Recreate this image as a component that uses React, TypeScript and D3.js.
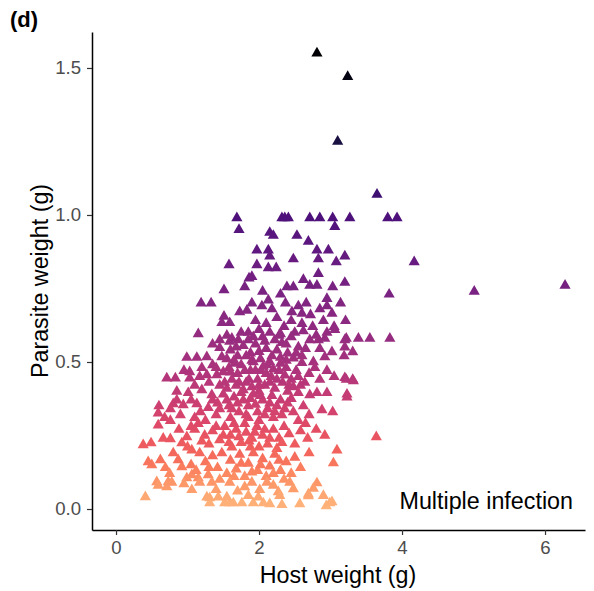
import React, { useEffect, useRef } from 'react';
import * as d3 from 'd3';

// [host weight (g), parasite weight (g)], grouped by parasite weight band
const outliers = [
    [2.81, 1.55], [3.24, 1.47], [3.10, 1.25], [3.65, 1.07],
];
const band95 = [
    [1.69, 0.99], [1.72, 0.95], [2.32, 0.99], [2.36, 0.99], [2.41, 0.99], [2.71, 0.99],
    [2.85, 0.99], [3.03, 0.99], [3.27, 0.99], [3.80, 0.99], [3.93, 0.99], [3.06, 0.96],
    [2.15, 0.94], [2.20, 0.93], [2.53, 0.93],
];
const band80 = [
    [2.69, 0.91], [2.81, 0.88], [2.97, 0.88], [1.97, 0.88], [2.13, 0.88], [2.15, 0.86],
    [2.48, 0.85], [2.83, 0.85], [3.20, 0.86], [3.08, 0.84], [1.58, 0.83], [1.97, 0.83],
    [2.13, 0.82], [2.24, 0.82], [2.83, 0.80], [4.17, 0.84],
];
const band72 = [
    [1.86, 0.785], [1.90, 0.79], [2.62, 0.78], [1.80, 0.755], [2.39, 0.755], [2.48, 0.755],
    [2.71, 0.76], [2.81, 0.76], [3.03, 0.755], [3.20, 0.77], [1.51, 0.745], [2.95, 0.715],
    [3.82, 0.73], [5.01, 0.74], [6.28, 0.76], [2.05, 0.74], [2.30, 0.73],
];
const band60 = [
    [1.19, 0.70], [1.33, 0.70], [1.51, 0.655], [1.73, 0.67], [1.83, 0.675], [1.90, 0.70],
    [2.04, 0.69], [2.13, 0.71], [2.18, 0.68], [2.37, 0.70], [2.46, 0.67], [2.55, 0.69],
    [2.60, 0.665], [2.66, 0.70], [2.72, 0.66], [2.85, 0.68], [2.95, 0.69], [3.02, 0.665],
    [3.14, 0.70], [1.48, 0.633], [1.59, 0.633], [1.95, 0.64], [2.10, 0.63], [2.25, 0.65],
    [2.35, 0.62], [2.45, 0.64], [2.60, 0.63], [2.75, 0.62], [2.90, 0.64], [3.05, 0.62],
    [3.21, 0.64], [1.15, 0.595], [1.45, 0.575], [1.59, 0.57], [1.71, 0.575], [1.85, 0.60],
    [2.00, 0.61], [2.15, 0.60], [2.30, 0.595], [2.50, 0.60], [2.62, 0.605], [2.80, 0.59],
    [2.95, 0.60], [3.06, 0.61],
];
const band50 = [
    [0.99, 0.515], [1.13, 0.515], [1.27, 0.517], [1.45, 0.548], [1.48, 0.517], [1.60, 0.54],
    [1.70, 0.52], [1.78, 0.555], [1.88, 0.53], [1.95, 0.56], [2.02, 0.51], [2.10, 0.545],
    [2.18, 0.52], [2.25, 0.54], [2.32, 0.565], [2.40, 0.53], [2.48, 0.513], [2.55, 0.55],
    [2.60, 0.52], [2.71, 0.575], [2.83, 0.575], [2.92, 0.58], [3.20, 0.575], [3.39, 0.58],
    [3.55, 0.58], [3.22, 0.58], [3.83, 0.58], [3.20, 0.55], [3.31, 0.534], [3.19, 0.52],
    [2.92, 0.517], [3.02, 0.534], [2.76, 0.50], [2.65, 0.545], [1.85, 0.575], [2.05, 0.585],
    [2.22, 0.575], [2.45, 0.585], [1.55, 0.59], [1.35, 0.56], [2.38, 0.505], [2.85, 0.545],
    [1.65, 0.505], [1.62, 0.58], [1.75, 0.60], [1.92, 0.585], [2.08, 0.57], [2.28, 0.59],
    [2.38, 0.56], [1.68, 0.55], [1.82, 0.52], [2.00, 0.535], [2.15, 0.50], [2.30, 0.515],
    [2.52, 0.53], [1.55, 0.51], [1.90, 0.505],
];
const band40 = [
    [0.83, 0.445], [1.03, 0.466], [1.03, 0.445], [1.27, 0.456], [1.41, 0.456], [1.50, 0.466],
    [0.71, 0.445], [1.20, 0.48], [1.35, 0.49], [1.58, 0.48], [1.62, 0.44], [1.70, 0.46],
    [1.75, 0.49], [1.82, 0.43], [1.88, 0.47], [1.92, 0.50], [1.98, 0.44], [2.03, 0.47],
    [2.08, 0.42], [2.12, 0.49], [2.17, 0.45], [2.22, 0.41], [2.28, 0.47], [2.33, 0.43],
    [2.38, 0.48], [2.45, 0.44], [2.52, 0.47], [2.58, 0.42], [2.60, 0.497], [2.64, 0.43],
    [2.70, 0.46], [2.78, 0.48], [2.85, 0.44], [2.95, 0.47], [3.05, 0.45], [3.20, 0.446],
    [3.31, 0.44], [3.22, 0.44], [3.32, 0.435], [1.45, 0.42], [1.55, 0.41], [1.68, 0.42],
    [1.78, 0.405], [1.90, 0.415], [2.00, 0.40], [2.48, 0.415], [2.10, 0.46], [2.40, 0.40],
    [1.10, 0.42], [0.95, 0.47], [1.60, 0.465], [1.66, 0.495], [1.72, 0.43], [1.80, 0.47],
    [1.86, 0.44], [1.95, 0.47], [2.00, 0.42], [2.06, 0.485], [2.15, 0.43], [2.20, 0.475],
    [2.25, 0.44], [2.30, 0.495], [2.36, 0.455], [2.42, 0.42], [1.52, 0.43], [1.40, 0.48],
    [1.30, 0.43], [1.17, 0.45], [2.55, 0.45],
];
const band30 = [
    [0.85, 0.40], [1.01, 0.395], [1.20, 0.405], [1.34, 0.388], [0.80, 0.357], [0.85, 0.37],
    [0.76, 0.34], [0.94, 0.354], [1.13, 0.357], [1.29, 0.344], [1.42, 0.36], [1.50, 0.39],
    [1.58, 0.35], [1.65, 0.38], [1.72, 0.33], [1.78, 0.37], [1.85, 0.35], [1.92, 0.39],
    [1.98, 0.33], [2.05, 0.37], [2.12, 0.34], [2.18, 0.385], [2.25, 0.35], [2.32, 0.32],
    [2.40, 0.36], [2.48, 0.33], [2.55, 0.395], [2.62, 0.35], [2.71, 0.388], [2.81, 0.395],
    [2.95, 0.395], [3.23, 0.39], [3.23, 0.38], [3.03, 0.33], [2.88, 0.337], [2.70, 0.32],
    [1.60, 0.31], [1.40, 0.32], [1.10, 0.31], [0.60, 0.35], [0.68, 0.31], [0.90, 0.32],
    [2.00, 0.30], [2.20, 0.31], [2.55, 0.30], [1.85, 0.31], [1.25, 0.30], [1.55, 0.37],
    [1.62, 0.34], [1.70, 0.36], [1.75, 0.395], [1.82, 0.32], [1.88, 0.375], [1.95, 0.355],
    [2.02, 0.385], [2.08, 0.32], [2.15, 0.36], [2.22, 0.33], [2.30, 0.37], [2.36, 0.34],
    [1.45, 0.34], [1.35, 0.37], [1.18, 0.33], [1.05, 0.37], [2.45, 0.375],
];
const band20 = [
    [0.59, 0.326], [0.76, 0.30], [0.59, 0.285], [0.38, 0.218], [0.49, 0.224], [0.66, 0.24],
    [0.76, 0.238], [0.92, 0.224], [0.99, 0.245], [1.10, 0.27], [1.24, 0.25], [1.35, 0.265],
    [1.45, 0.235], [1.52, 0.28], [1.60, 0.25], [1.68, 0.27], [1.75, 0.225], [1.82, 0.26],
    [1.90, 0.24], [1.97, 0.28], [2.05, 0.25], [2.12, 0.22], [2.20, 0.27], [2.28, 0.24],
    [2.35, 0.28], [2.42, 0.255], [2.50, 0.22], [2.58, 0.265], [2.68, 0.24], [2.80, 0.27],
    [2.92, 0.25], [3.64, 0.245], [1.15, 0.29], [1.30, 0.22], [1.40, 0.28], [2.00, 0.21],
    [2.65, 0.29], [0.88, 0.27], [1.05, 0.28], [1.62, 0.21], [1.88, 0.21], [2.25, 0.205],
    [1.50, 0.25], [1.58, 0.225], [1.65, 0.29], [1.72, 0.245], [1.80, 0.29], [1.86, 0.23],
    [1.94, 0.26], [2.08, 0.27], [2.15, 0.24], [2.32, 0.225], [1.20, 0.23], [1.00, 0.21],
];
const band10 = [
    [0.80, 0.19], [0.50, 0.15], [0.62, 0.167], [0.69, 0.14], [0.92, 0.143], [0.87, 0.167],
    [1.06, 0.20], [1.17, 0.19], [1.06, 0.116], [0.99, 0.105], [1.15, 0.105], [1.29, 0.116],
    [1.25, 0.16], [1.35, 0.18], [1.42, 0.14], [1.48, 0.19], [1.55, 0.12], [1.60, 0.165],
    [1.68, 0.135], [1.73, 0.185], [1.80, 0.11], [1.85, 0.155], [1.92, 0.19], [1.98, 0.13],
    [2.05, 0.17], [2.10, 0.11], [2.15, 0.145], [2.22, 0.185], [2.30, 0.13], [2.38, 0.16],
    [2.45, 0.12], [2.50, 0.175], [2.58, 0.14], [3.09, 0.20], [3.04, 0.156], [2.70, 0.19],
    [2.35, 0.10], [1.45, 0.10], [1.05, 0.15], [0.45, 0.16], [1.30, 0.14], [1.65, 0.11],
    [1.75, 0.155], [1.90, 0.125], [2.02, 0.15], [2.20, 0.12], [2.28, 0.165], [1.12, 0.13],
    [0.75, 0.12],
];
const band00 = [
    [0.57, 0.092], [0.73, 0.092], [0.71, 0.075], [0.41, 0.041], [1.06, 0.065], [1.31, 0.037],
    [1.64, 0.02], [0.59, 0.08], [0.78, 0.09], [1.17, 0.09], [1.34, 0.09], [1.59, 0.09],
    [1.90, 0.09], [2.11, 0.09], [2.43, 0.09], [2.81, 0.088], [2.48, 0.068], [2.76, 0.07],
    [2.69, 0.044], [3.02, 0.024], [2.94, 0.01], [2.57, 0.017], [2.32, 0.014], [2.15, 0.017],
    [2.27, 0.058], [1.31, 0.02], [1.52, 0.02], [1.59, 0.02], [1.76, 0.02], [1.92, 0.02],
    [2.06, 0.02], [2.99, 0.02], [1.27, 0.04], [1.43, 0.04], [1.55, 0.04], [1.85, 0.045],
    [1.99, 0.04], [2.29, 0.045], [2.69, 0.05], [2.90, 0.045], [2.01, 0.065], [1.70, 0.06],
    [1.40, 0.065], [1.80, 0.075], [2.20, 0.08], [0.95, 0.085],
];

const xTicks = [0, 2, 4, 6];
const yTicks = [0, 0.5, 1, 1.5];

// parasite weight -> position on the magma ramp (reversed)
const colorStops = [0, 0.1, 0.2, 0.3, 0.5, 0.75, 1.0, 1.25, 1.55];
const magmaStops = [0.85, 0.77, 0.67, 0.59, 0.46, 0.35, 0.24, 0.12, 0.0];

const font = '"Liberation Sans", Arial, sans-serif';

const App = () => {
    const ref = useRef<SVGSVGElement>(null);

    useEffect(() => {
        document.body.style.margin = '0';
        const svg = d3.select(ref.current);
        svg.selectAll('*').remove();

        const x = d3.scaleLinear().domain([-0.336, 6.559]).range([92, 585]);
        const y = d3.scaleLinear().domain([-0.0714, 1.6224]).range([530, 32]);
        const tone = d3.scaleLinear().domain(colorStops).range(magmaStops).clamp(true);

        const data = [
            ...outliers, ...band95, ...band80, ...band72, ...band60,
            ...band50, ...band40, ...band30, ...band20, ...band10, ...band00,
        ];

        svg.append('g')
            .selectAll('path')
            .data(data)
            .enter()
            .append('path')
            .attr('d', d3.symbol(d3.symbolTriangle, 54))
            .attr('transform', d => `translate(${x(d[0])},${y(d[1])})`)
            .attr('fill', d => d3.interpolateMagma(tone(d[1])));

        const gx = svg.append('g')
            .attr('transform', 'translate(0,530)')
            .call(
                d3.axisBottom(x)
                    .tickValues(xTicks)
                    .tickSize(5)
                    .tickSizeOuter(0)
                    .tickPadding(6)
                    .tickFormat(d3.format('d'))
            );
        const gy = svg.append('g')
            .attr('transform', 'translate(92,0)')
            .call(
                d3.axisLeft(y)
                    .tickValues(yTicks)
                    .tickSize(5)
                    .tickSizeOuter(0)
                    .tickPadding(6)
                    .tickFormat(d3.format('.1f'))
            );
        [gx, gy].forEach(g => {
            g.select('.domain').attr('stroke', '#000').attr('stroke-width', 1.5);
            g.selectAll('.tick line').attr('stroke', '#333').attr('stroke-width', 1.2);
            g.selectAll('.tick text')
                .attr('fill', '#4d4d4d')
                .style('font-family', font)
                .style('font-size', '18.6px');
        });

        svg.append('text')
            .attr('x', 338)
            .attr('y', 583)
            .attr('text-anchor', 'middle')
            .style('font-family', font)
            .style('font-size', '23.3px')
            .text('Host weight (g)');

        svg.append('text')
            .attr('transform', 'translate(48,281) rotate(-90)')
            .attr('text-anchor', 'middle')
            .style('font-family', font)
            .style('font-size', '23.3px')
            .text('Parasite weight (g)');

        svg.append('text')
            .attr('x', 573)
            .attr('y', 509)
            .attr('text-anchor', 'end')
            .style('font-family', font)
            .style('font-size', '23.3px')
            .text('Multiple infection');

        svg.append('text')
            .attr('x', 10)
            .attr('y', 27)
            .style('font-family', font)
            .style('font-size', '22px')
            .style('font-weight', 'bold')
            .text('(d)');
    }, []);

    return <svg ref={ref} width={594} height={591} style={{ display: 'block', background: '#fff' }} />;
};

export default App;
